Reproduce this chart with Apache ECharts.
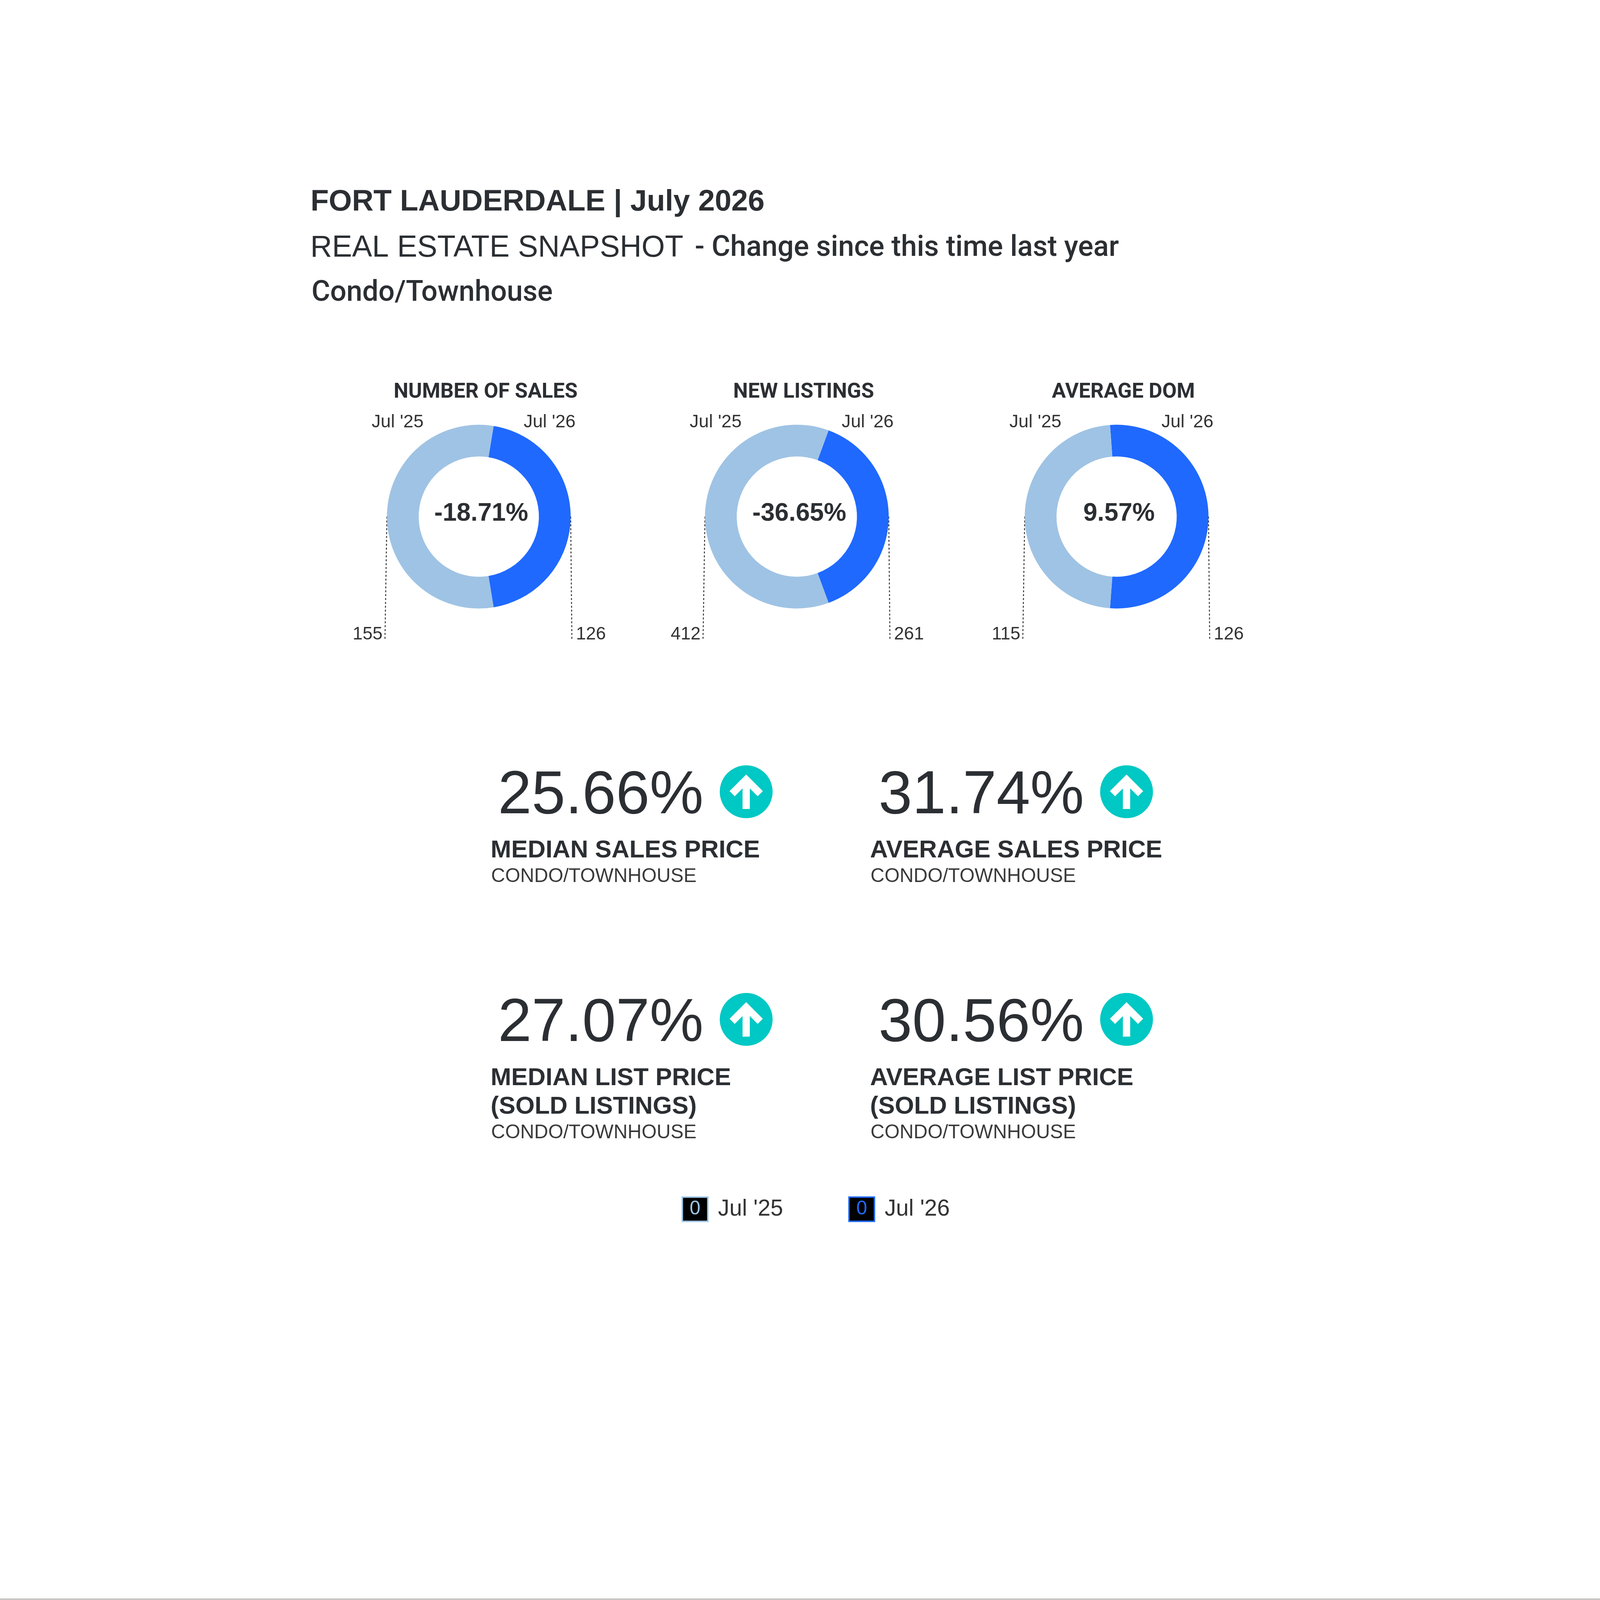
<!DOCTYPE html>
<html>
<head>
<meta charset="utf-8">
<script src="https://cdn.jsdelivr.net/npm/echarts@6.0.0/dist/echarts.min.js"></script>
<style>
  html, body { margin: 0; padding: 0; background: #fff; overflow: hidden; }
  #chart { width: 100vw; height: 100vh; }
</style>
</head>
<body>
<div id="chart"></div>
<script>
const periods = ["Jul '25", "Jul '26"];
const donutTitles = ['NUMBER OF SALES', 'NEW LISTINGS', 'AVERAGE DOM'];
const prevValues = [155, 412, 115];   // Jul '25
const currValues = [126, 261, 126];   // Jul '26

const kpiTitles = [
  'MEDIAN SALES PRICE',
  'AVERAGE SALES PRICE',
  'MEDIAN LIST PRICE\n(SOLD LISTINGS)',
  'AVERAGE LIST PRICE\n(SOLD LISTINGS)'
];
const kpiChanges = [25.66, 31.74, 27.07, 30.56];
const kpiSubtitle = 'CONDO/TOWNHOUSE';

// ---- look ----
const LIGHT = '#9fc3e4';
const BLUE = '#1f69ff';
const TEAL = '#00c8c4';
const INK = '#2b2f33';
const FONT = '"Liberation Sans", Arial, sans-serif';

var dom = document.getElementById('chart');
var chart = echarts.init(dom, null, { renderer: 'canvas' });

// the layout is worked out on a 5100 x 6600 page and scaled to the window
const W = dom.clientWidth, H = dom.clientHeight;
const s = Math.min(W / 5100, H / 6600);
const x0 = (W - 5100 * s) / 2;
const X = v => x0 + v * s;
const Y = v => v * s;
const S = v => v * s;

// donut layout
const CXS = [1225, 2537, 3856];
const CY = 2131;
const R_IN = 248, R_OUT = 379;

// kpi layout
const KPI_NUM_X = [1304, 2874];
const KPI_LBL_X = [1274, 2839];
const KPI_ARROW_X = [2328, 3897];
const KPI_ROW_Y = [3286, 4225];

function donutSeries(i) {
  let cx = X(CXS[i]), cy = Y(CY), rOut = S(R_OUT);
  let total = prevValues[i] + currValues[i];
  let start = currValues[i] / total * 180;   // Jul '26 slice centred on the right
  let data = [
    { name: periods[1], value: currValues[i], itemStyle: { color: BLUE } },
    { name: periods[0], value: prevValues[i], itemStyle: { color: LIGHT } }
  ];
  let values = {
    type: 'pie',
    center: [cx, cy],
    radius: [S(R_IN), rOut],
    startAngle: start,
    clockwise: true,
    avoidLabelOverlap: false,
    silent: true,
    animation: false,
    data: data,
    label: {
      show: true, position: 'outside', formatter: '{c}',
      fontSize: S(74), color: '#333', fontFamily: FONT
    },
    labelLine: {
      show: true, length: 10, length2: 10,
      lineStyle: { color: '#333', width: S(4), type: [S(8), S(8)] }
    },
    labelLayout: function (p) {
      let right = p.dataIndex === 0;
      let ex = right ? cx + rOut : cx - rOut;
      return {
        x: right ? ex + S(22) : ex - S(18),
        y: cy + S(486),
        align: right ? 'left' : 'right',
        verticalAlign: 'middle',
        labelLinePoints: [[ex, cy], [right ? ex + S(5) : ex - S(8), cy + S(508)]]
      };
    }
  };
  // same slices again, invisible, only to carry the period names on top
  let names = {
    type: 'pie',
    center: [cx, cy],
    radius: [S(R_IN), rOut],
    startAngle: start,
    clockwise: true,
    avoidLabelOverlap: false,
    silent: true,
    animation: false,
    z: 3,
    data: data.map(d => ({ name: d.name, value: d.value, itemStyle: { color: 'rgba(0,0,0,0)' } })),
    label: {
      show: true, formatter: '{b}', fontSize: S(75), color: '#333', fontFamily: FONT
    },
    labelLine: { show: false },
    labelLayout: function (p) {
      return {
        x: p.dataIndex === 0 ? cx + S(292) : cx - S(335),
        y: cy - S(389),
        align: 'center',
        verticalAlign: 'middle'
      };
    }
  };
  return [values, names];
}

function arrowIcon(x, y) {
  return {
    type: 'group', x: X(x), y: Y(y), scaleX: s, scaleY: s, silent: true,
    children: [
      { type: 'circle', shape: { cx: 0, cy: 0, r: 109 }, style: { fill: TEAL } },
      { type: 'polyline', shape: { points: [[-58, 8], [0, -50], [58, 8]] },
        style: { stroke: '#fff', lineWidth: 30, fill: null, lineJoin: 'miter', lineCap: 'butt' } },
      { type: 'line', shape: { x1: 0, y1: -50, x2: 0, y2: 71 },
        style: { stroke: '#fff', lineWidth: 30, lineCap: 'butt' } }
    ]
  };
}

function label(x, y, text, size, extra) {
  return {
    type: 'text', x: X(x), y: Y(y), silent: true,
    style: Object.assign({ text: text, fontSize: S(size), fontFamily: FONT, fill: INK, verticalAlign: 'middle' }, extra || {})
  };
}

let graphics = [
  label(531, 835, 'FORT LAUDERDALE | July 2026', 123, { fontWeight: 'bold' }),
  label(530, 1024, 'REAL ESTATE SNAPSHOT', 124),
  label(2116, 1026, '- Change since this time last year', 118, { fontFamily: 'Roboto', fontWeight: 500 }),
  label(535, 1212, 'Condo/Townhouse', 118, { fontFamily: 'Roboto', fontWeight: 500 }),
  // page border at the foot
  { type: 'rect', shape: { x: 0, y: Y(6593), width: W, height: Math.max(1, S(7)) },
    style: { fill: '#c9c7c4' }, silent: true }
];

donutTitles.forEach(function (t, i) {
  let pct = ((currValues[i] - prevValues[i]) / prevValues[i] * 100).toFixed(2) + '%';
  graphics.push(label(CXS[i] + 28, 1619, t, 86, { fontWeight: 'bold', fontFamily: 'Roboto', align: 'center' }));
  graphics.push(label(CXS[i] + 10, CY - 12, pct, 104, { fontWeight: 'bold', align: 'center' }));
});

kpiChanges.forEach(function (v, k) {
  let col = k % 2, row = Math.floor(k / 2);
  let y = KPI_ROW_Y[row];
  let lines = kpiTitles[k].split('\n').length;
  graphics.push(label(KPI_NUM_X[col], y, v.toFixed(2) + '%', 250));
  graphics.push(arrowIcon(KPI_ARROW_X[col], y - 20));
  graphics.push(label(KPI_LBL_X[col], y + 223 - 59, kpiTitles[k], 102,
    { fontWeight: 'bold', lineHeight: S(118), verticalAlign: 'top' }));
  graphics.push(label(KPI_LBL_X[col] + 2, y + 223 + (lines - 1) * 118 + 107, kpiSubtitle, 80, { fill: '#3a3a3a' }));
});

let series = [];
for (let i = 0; i < donutTitles.length; i++) {
  series = series.concat(donutSeries(i));
}

var option = {
  backgroundColor: '#ffffff',
  animation: false,
  textStyle: { fontFamily: FONT },
  legend: {
    left: X(2053),
    top: Y(4930),
    icon: 'none',
    itemWidth: 1,
    itemHeight: 1,
    itemGap: S(265),
    padding: S(5),
    selectedMode: false,
    data: periods,
    formatter: function (name) {
      return '{b' + periods.indexOf(name) + '|0}{txt|' + name + '}';
    },
    textStyle: {
      rich: {
        b0: { width: S(99), height: S(94), backgroundColor: '#000', borderColor: LIGHT, borderWidth: S(6),
          align: 'center', color: LIGHT, fontSize: S(80), fontFamily: FONT },
        b1: { width: S(99), height: S(94), backgroundColor: '#000', borderColor: BLUE, borderWidth: S(6),
          align: 'center', color: BLUE, fontSize: S(80), fontFamily: FONT },
        txt: { fontSize: S(94), color: '#333', fontFamily: FONT, padding: [0, 0, 0, S(45)],
          verticalAlign: 'bottom', lineHeight: S(60) }
      }
    }
  },
  graphic: graphics,
  series: series
};

chart.setOption(option);
</script>
</body>
</html>
